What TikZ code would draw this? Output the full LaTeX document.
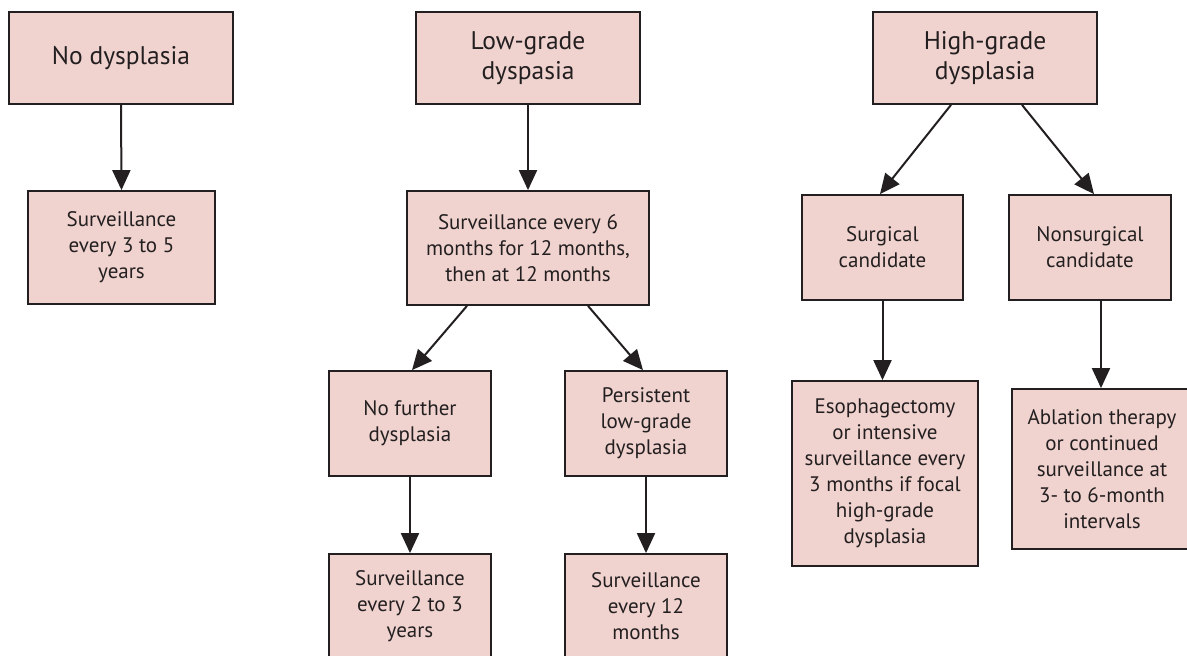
\documentclass[tikz,border=0pt]{standalone}
\usepackage{fontspec}
\setmainfont{PT Sans}
\usetikzlibrary{arrows.meta}
\definecolor{boxfill}{RGB}{240,211,207}
\definecolor{ink}{RGB}{35,31,32}
\tikzset{
  box/.style={draw=ink, line width=1.8pt, fill=boxfill, text=ink, align=center, inner sep=0pt, rectangle},
  big/.style={font=\fontsize{25.5}{30}\selectfont},
  small/.style={font=\fontsize{21}{26}\selectfont},
  arr/.style={draw=ink, line width=2pt, -{Triangle[length=20pt,width=18pt]}}
}
\begin{document}
\begin{tikzpicture}[x=1pt,y=-1pt]
\useasboundingbox (0,0) rectangle (1187,656);
\clip (0,0) rectangle (1187,656);
% row 1
\node[box,big,minimum width=224,minimum height=92] (n1) at (121,58) {No dysplasia};
\node[box,big,minimum width=224,minimum height=92] (lg) at (528,58) {Low-grade\\dyspasia};
\node[box,big,minimum width=224,minimum height=92] (hg) at (985,58) {High-grade\\dysplasia};
% row 2
\node[box,small,minimum width=187,minimum height=113] (s1) at (121.5,247.5) {Surveillance\\every 3 to 5\\years};
\node[box,small,minimum width=242,minimum height=114] (s6) at (528,248) {Surveillance every 6\\months for 12 months,\\then at 12 months};
\node[box,small,minimum width=161,minimum height=105] (sc) at (882.5,247.5) {Surgical\\candidate};
\node[box,small,minimum width=162,minimum height=105] (ns) at (1090,247.5) {Nonsurgical\\candidate};
% row 3
\node[box,small,minimum width=162,minimum height=105] (nf) at (410,423.5) {No further\\dysplasia};
\node[box,small,minimum width=162,minimum height=105] (pl) at (646,423.5) {Persistent\\low-grade\\dysplasia};
\node[box,small,minimum width=186,minimum height=185] (es) at (885,473.5) {Esophagectomy\\or intensive\\surveillance every\\3 months if focal\\high-grade\\dysplasia};
\node[box,small,minimum width=180,minimum height=160] (ab) at (1102,469) {Ablation therapy\\or continued\\surveillance at\\3- to 6-month\\intervals};
% row 4
\node[box,small,minimum width=162,minimum height=105] (s23) at (410,606.5) {Surveillance\\every 2 to 3\\years};
\node[box,small,minimum width=162,minimum height=105] (s12) at (646,606.5) {Surveillance\\every 12\\months};
% connectors
\draw[arr] (n1.south) -- (s1.north);
\draw[arr] (lg.south) -- (s6.north);
\draw[arr] ([xshift=-61pt]s6.south) -- ([xshift=2pt]nf.north);
\draw[arr] ([xshift=60pt]s6.south) -- ([xshift=-3pt]pl.north);
\draw[arr] (nf.south) -- (s23.north);
\draw[arr] (pl.south) -- (s12.north);
\draw[arr] ([xshift=-34pt]hg.south) -- ([xshift=-2.5pt]sc.north);
\draw[arr] ([xshift=37pt]hg.south) -- ([xshift=4pt]ns.north);
\draw[arr] (sc.south) -- (sc.south |- es.north);
\draw[arr] ([xshift=11pt]ns.south) -- ([xshift=11pt]ns.south |- ab.north);
\end{tikzpicture}
\end{document}
